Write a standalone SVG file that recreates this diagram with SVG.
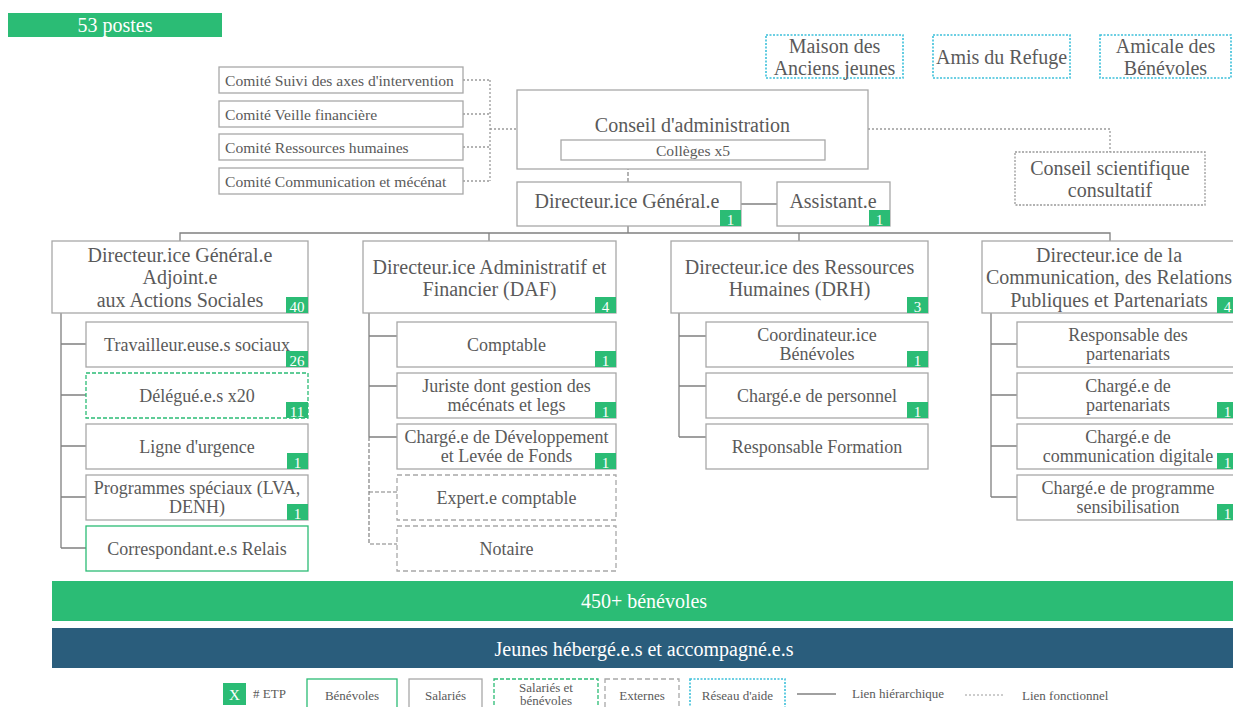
<svg xmlns="http://www.w3.org/2000/svg" width="1233" height="707" viewBox="0 0 1233 707" font-family="Liberation Serif, DejaVu Serif, Times New Roman, serif">
<style>
text{font-family:'Liberation Serif','DejaVu Serif','Times New Roman',serif;fill:#5a5a5a;}
.box{fill:#fff;stroke:#a8a8a8;stroke-width:1.3;}
.gbox{fill:#fff;stroke:#2bbc75;stroke-width:1.3;}
.gdash{fill:#fff;stroke:#2bbc75;stroke-width:1.3;stroke-dasharray:4,2;}
.xdash{fill:#fff;stroke:#a8a8a8;stroke-width:1.3;stroke-dasharray:5,3;}
.cyan{fill:#fff;stroke:#3cc0da;stroke-width:1.6;stroke-dasharray:2,1.5;}
.dot{fill:#fff;stroke:#999;stroke-width:1.3;stroke-dasharray:2,1.5;}
.badge{fill:#2bbc75;}
.bt{fill:#fff;font-size:15px;text-anchor:middle;}
.c{text-anchor:middle;}
.d{font-size:20px;}
.s{font-size:18px;}
.k{font-size:15.6px;}
.lg{font-size:13px;}
.h{fill:none;stroke:#808080;stroke-width:1.3;}
.hd{fill:none;stroke:#808080;stroke-width:1.2;stroke-dasharray:4,2;}
.f{fill:none;stroke:#9a9a9a;stroke-width:1.3;stroke-dasharray:2,2;}
</style>

<g id="connectors">
  <path class="f" d="M463,80 H490 M463,114 H490 M463,147 H490 M463,181 H490 M490,80 V181 M490,129 H517"/>
  <path class="f" d="M868,129 H1110 V152"/>
  <path class="hd" d="M628,160 V182"/>
  <path class="h" d="M741,204 H777"/>
  <path class="h" d="M628,226 V233 M180,241 V233 H1110 V241 M489,233 V241 M799,233 V241"/>
  <path class="h" d="M61,313 V548 M61,344 H86 M61,395 H86 M61,446 H86 M61,497 H86 M61,548 H86"/>
  <path class="h" d="M369,313 V437 M369,336 H397 M369,386 H397 M369,437 H397"/>
  <path class="hd" d="M369,437 V544 H397 M369,492 H397"/>
  <path class="h" d="M679,313 V437 M679,336 H706 M679,386 H706 M679,437 H706"/>
  <path class="h" d="M991,313 V497 M991,344 H1017 M991,395 H1017 M991,446 H1017 M991,497 H1017"/>
</g>

<g id="postes">
  <rect x="8" y="13" width="214" height="24" fill="#2bbc75"/>
  <text x="115" y="32" class="c" style="fill:#fff;font-size:20px">53 postes</text>
</g>

<g id="comite1"><rect class="box" x="219" y="67" width="244" height="26"/><text x="225" y="85.5" class="k">Comité Suivi des axes d'intervention</text></g>
<g id="comite2"><rect class="box" x="219" y="101" width="244" height="26"/><text x="225" y="119.5" class="k">Comité Veille financière</text></g>
<g id="comite3"><rect class="box" x="219" y="134" width="244" height="26"/><text x="225" y="152.5" class="k">Comité Ressources humaines</text></g>
<g id="comite4"><rect class="box" x="219" y="168" width="244" height="26"/><text x="225" y="186.5" class="k">Comité Communication et mécénat</text></g>

<g id="maison"><rect class="cyan" x="766" y="35" width="137" height="43"/><text x="834.5" y="53" class="c d">Maison des</text><text x="834.5" y="75" class="c d">Anciens jeunes</text></g>
<g id="amis"><rect class="cyan" x="933" y="35" width="137" height="43"/><text x="1001.5" y="64" class="c d">Amis du Refuge</text></g>
<g id="amicale"><rect class="cyan" x="1100" y="35" width="131" height="43"/><text x="1165.5" y="53" class="c d">Amicale des</text><text x="1165.5" y="75" class="c d">Bénévoles</text></g>

<g id="conseil">
  <rect class="box" x="517" y="90" width="351" height="79"/>
  <text x="692.5" y="132" class="c d">Conseil d'administration</text>
  <rect class="box" x="561" y="140" width="264" height="20"/>
  <text x="693" y="156" class="c k">Collèges x5</text>
</g>

<g id="conseil-sci"><rect class="dot" x="1015" y="152" width="190" height="53"/><text x="1110" y="175" class="c d">Conseil scientifique</text><text x="1110" y="197" class="c d">consultatif</text></g>

<g id="dg"><rect class="box" x="517" y="182" width="224" height="44"/><text x="627" y="208" class="c d">Directeur.ice Général.e</text><rect class="badge" x="720" y="210" width="21" height="16"/><text class="bt" x="730.5" y="224.5">1</text></g>
<g id="assistant"><rect class="box" x="777" y="182" width="113" height="44"/><text x="833" y="208" class="c d">Assistant.e</text><rect class="badge" x="869" y="210" width="21" height="16"/><text class="bt" x="879.5" y="224.5">1</text></g>

<g id="dga"><rect class="box" x="52" y="241" width="256" height="72"/><text x="180" y="262" class="c d">Directeur.ice Général.e</text><text x="180" y="284" class="c d">Adjoint.e</text><text x="180" y="307" class="c d">aux Actions Sociales</text><rect class="badge" x="286" y="297" width="22" height="16"/><text class="bt" x="297" y="311.5">40</text></g>
<g id="travailleurs"><rect class="box" x="86" y="322" width="222" height="45"/><text x="197" y="351" class="c s">Travailleur.euse.s sociaux</text><rect class="badge" x="286" y="351" width="22" height="16"/><text class="bt" x="297" y="365.5">26</text></g>
<g id="delegues"><rect class="gdash" x="86" y="373" width="222" height="45"/><text x="197" y="402" class="c s">Délégué.e.s x20</text><rect class="badge" x="286" y="402" width="22" height="16"/><text class="bt" x="297" y="416.5">11</text></g>
<g id="ligne"><rect class="box" x="86" y="424" width="222" height="45"/><text x="197" y="453" class="c s">Ligne d'urgence</text><rect class="badge" x="287" y="453" width="21" height="16"/><text class="bt" x="297.5" y="467.5">1</text></g>
<g id="programmes"><rect class="box" x="86" y="475" width="222" height="45"/><text x="197" y="494" class="c s">Programmes spéciaux (LVA,</text><text x="197" y="513" class="c s">DENH)</text><rect class="badge" x="287" y="504" width="21" height="16"/><text class="bt" x="297.5" y="518.5">1</text></g>
<g id="correspondants"><rect class="gbox" x="86" y="526" width="222" height="45"/><text x="197" y="555" class="c s">Correspondant.e.s Relais</text></g>

<g id="daf"><rect class="box" x="363" y="241" width="253" height="72"/><text x="489.5" y="274" class="c d">Directeur.ice Administratif et</text><text x="489.5" y="296" class="c d">Financier (DAF)</text><rect class="badge" x="595" y="297" width="21" height="16"/><text class="bt" x="605.5" y="311.5">4</text></g>
<g id="comptable"><rect class="box" x="397" y="322" width="219" height="45"/><text x="506.5" y="351" class="c s">Comptable</text><rect class="badge" x="595" y="351" width="21" height="16"/><text class="bt" x="605.5" y="365.5">1</text></g>
<g id="juriste"><rect class="box" x="397" y="373" width="219" height="45"/><text x="506.5" y="392" class="c s">Juriste dont gestion des</text><text x="506.5" y="411" class="c s">mécénats et legs</text><rect class="badge" x="595" y="402" width="21" height="16"/><text class="bt" x="605.5" y="416.5">1</text></g>
<g id="developpement"><rect class="box" x="397" y="424" width="219" height="45"/><text x="506.5" y="443" class="c s">Chargé.e de Développement</text><text x="506.5" y="462" class="c s">et Levée de Fonds</text><rect class="badge" x="595" y="453" width="21" height="16"/><text class="bt" x="605.5" y="467.5">1</text></g>
<g id="expert"><rect class="xdash" x="397" y="475" width="219" height="45"/><text x="506.5" y="504" class="c s">Expert.e comptable</text></g>
<g id="notaire"><rect class="xdash" x="397" y="526" width="219" height="45"/><text x="506.5" y="555" class="c s">Notaire</text></g>

<g id="drh"><rect class="box" x="671" y="241" width="257" height="72"/><text x="799.5" y="274" class="c d">Directeur.ice des Ressources</text><text x="799.5" y="296" class="c d">Humaines (DRH)</text><rect class="badge" x="907" y="297" width="21" height="16"/><text class="bt" x="917.5" y="311.5">3</text></g>
<g id="coordinateur"><rect class="box" x="706" y="322" width="222" height="45"/><text x="817" y="341" class="c s">Coordinateur.ice</text><text x="817" y="360" class="c s">Bénévoles</text><rect class="badge" x="907" y="351" width="21" height="16"/><text class="bt" x="917.5" y="365.5">1</text></g>
<g id="personnel"><rect class="box" x="706" y="373" width="222" height="45"/><text x="817" y="402" class="c s">Chargé.e de personnel</text><rect class="badge" x="907" y="402" width="21" height="16"/><text class="bt" x="917.5" y="416.5">1</text></g>
<g id="formation"><rect class="box" x="706" y="424" width="222" height="45"/><text x="817" y="453" class="c s">Responsable Formation</text></g>

<g id="comm"><rect class="box" x="982" y="241" width="256" height="72"/><text x="1109" y="262" class="c d">Directeur.ice de la</text><text x="1109" y="284" class="c d">Communication, des Relations</text><text x="1109" y="307" class="c d">Publiques et Partenariats</text><rect class="badge" x="1217" y="297" width="21" height="16"/><text class="bt" x="1227.5" y="311.5">4</text></g>
<g id="resp-partenariats"><rect class="box" x="1017" y="322" width="222" height="45"/><text x="1128" y="341" class="c s">Responsable des</text><text x="1128" y="360" class="c s">partenariats</text></g>
<g id="charge-partenariats"><rect class="box" x="1017" y="373" width="222" height="45"/><text x="1128" y="392" class="c s">Chargé.e de</text><text x="1128" y="411" class="c s">partenariats</text><rect class="badge" x="1217" y="402" width="21" height="16"/><text class="bt" x="1227.5" y="416.5">1</text></g>
<g id="digitale"><rect class="box" x="1017" y="424" width="222" height="45"/><text x="1128" y="443" class="c s">Chargé.e de</text><text x="1128" y="462" class="c s">communication digitale</text><rect class="badge" x="1217" y="453" width="21" height="16"/><text class="bt" x="1227.5" y="467.5">1</text></g>
<g id="sensibilisation"><rect class="box" x="1017" y="475" width="222" height="45"/><text x="1128" y="494" class="c s">Chargé.e de programme</text><text x="1128" y="513" class="c s">sensibilisation</text><rect class="badge" x="1217" y="504" width="21" height="16"/><text class="bt" x="1227.5" y="518.5">1</text></g>

<g id="benevoles-bar"><rect x="52" y="581" width="1181" height="40" fill="#2bbc75"/><text x="644" y="608" class="c d" style="fill:#fff">450+ bénévoles</text></g>
<g id="jeunes-bar"><rect x="52" y="628" width="1181" height="40" fill="#2a5d7c"/><text x="644" y="656" class="c d" style="fill:#fff">Jeunes hébergé.e.s et accompagné.e.s</text></g>

<g id="legend">
  <rect class="badge" x="223" y="683" width="23" height="22"/><text class="bt" x="234.5" y="699.5">X</text>
  <text x="253" y="698" class="lg"># ETP</text>
  <rect class="gbox" x="307" y="679" width="90" height="32"/><text x="352" y="700" class="c lg">Bénévoles</text>
  <rect class="box" x="409" y="679" width="73" height="32"/><text x="445.5" y="700" class="c lg">Salariés</text>
  <rect class="gdash" x="494" y="679" width="104" height="32"/><text x="546" y="692" class="c lg">Salariés et</text><text x="546" y="705" class="c lg">bénévoles</text>
  <rect class="xdash" x="605" y="679" width="74" height="32"/><text x="642" y="700" class="c lg">Externes</text>
  <rect class="cyan" x="690" y="679" width="95" height="32"/><text x="737.5" y="700" class="c lg">Réseau d'aide</text>
  <path class="h" d="M797,694 H836"/><text x="852" y="698" class="lg">Lien hiérarchique</text>
  <path class="f" d="M965,695 H1004" style="stroke-width:1"/><text x="1022" y="700" class="lg">Lien fonctionnel</text>
</g>
</svg>
